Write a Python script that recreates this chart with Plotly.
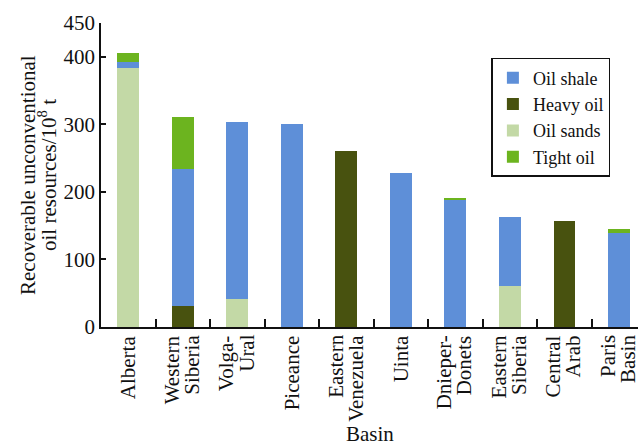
import plotly.graph_objects as go

basins = ["Alberta", "Western<br>Siberia", "Volga-<br>Ural", "Piceance", "Eastern<br>Venezuela",
          "Uinta", "Dnieper-<br>Donets", "Eastern<br>Siberia", "Central<br>Arab", "Paris<br>Basin"]

heavy_oil = [0, 31, 0, 0, 260, 0, 0, 0, 157, 0]
oil_sands = [384, 0, 42, 0, 0, 0, 0, 60, 0, 0]
oil_shale = [8, 203, 262, 300, 0, 228, 188, 103, 0, 139]
tight_oil = [13, 77, 0, 0, 0, 0, 2, 0, 0, 6]

y_ticks = [0, 100, 200, 300, 400, 450]
y_title_lines = ["Recoverable unconventional", "oil resources/10<sup>8</sup> t"]

colors = {
    "Oil shale": "#5E8FD8",
    "Heavy oil": "#48520F",
    "Oil sands": "#C3D9A6",
    "Tight oil": "#6CB41F",
}

FONT = '"Liberation Serif"'
INK = "#111"

fig = go.Figure()
series = [("Heavy oil", heavy_oil, 2), ("Oil sands", oil_sands, 3),
          ("Oil shale", oil_shale, 1), ("Tight oil", tight_oil, 4)]
for name, vals, rank in series:
    fig.add_trace(go.Bar(x=basins, y=vals, name=name, legendrank=rank,
                         marker=dict(color=colors[name], line=dict(width=0)),
                         width=0.4))

# category labels: rotated text, every line top-aligned just under the axis
for b in basins:
    lines = b.split("<br>")
    shifts = [0] if len(lines) == 1 else [-11, 9]
    for line, dx in zip(lines, shifts):
        fig.add_annotation(x=b, xref="x", y=0, yref="paper", text=line, showarrow=False,
                           textangle=-90, xanchor="center", yanchor="top",
                           xshift=dx, yshift=-6, font=dict(family=FONT, size=21, color=INK))

fig.add_annotation(x=0.5, xref="paper", y=-121 / 304, yref="paper", yanchor="bottom",
                   text="Basin", showarrow=False, font=dict(family=FONT, size=21, color=INK))

# y-axis title, two rotated lines
for line, dx in zip(y_title_lines, [-73, -54]):
    fig.add_annotation(x=0, xref="paper", y=0.5, yref="paper", text=line, showarrow=False,
                       textangle=-90, xanchor="center", yanchor="middle", xshift=dx,
                       font=dict(family=FONT, size=21, color=INK))

fig.update_layout(
    barmode="stack",
    width=638, height=448,
    margin=dict(l=101, r=0, t=23, b=121, autoexpand=False),
    paper_bgcolor="white", plot_bgcolor="white",
    font=dict(family=FONT, size=21, color=INK),
    showlegend=True,
    legend=dict(x=0.727, y=0.885, xanchor="left", yanchor="top",
                bordercolor=INK, borderwidth=1.5, bgcolor="white",
                font=dict(size=18, family=FONT, color=INK), itemwidth=30,
                tracegroupgap=0, traceorder="normal"),
    xaxis=dict(
        range=[-0.5, 9.35], showline=True, linecolor=INK, linewidth=1.5,
        ticks="inside", tickson="boundaries", ticklen=8, tickcolor=INK, tickwidth=1.5,
        showticklabels=False,
        showgrid=False, zeroline=False, fixedrange=True,
    ),
    yaxis=dict(
        range=[0, 450], tickvals=y_ticks, ticktext=[str(v) for v in y_ticks],
        showline=True, linecolor=INK, linewidth=1.5,
        ticks="inside", ticklen=5, tickcolor=INK, tickwidth=1.5,
        tickfont=dict(family=FONT, size=21, color=INK),
        showgrid=False, zeroline=False,
    ),
)

fig.write_html("out.html")
